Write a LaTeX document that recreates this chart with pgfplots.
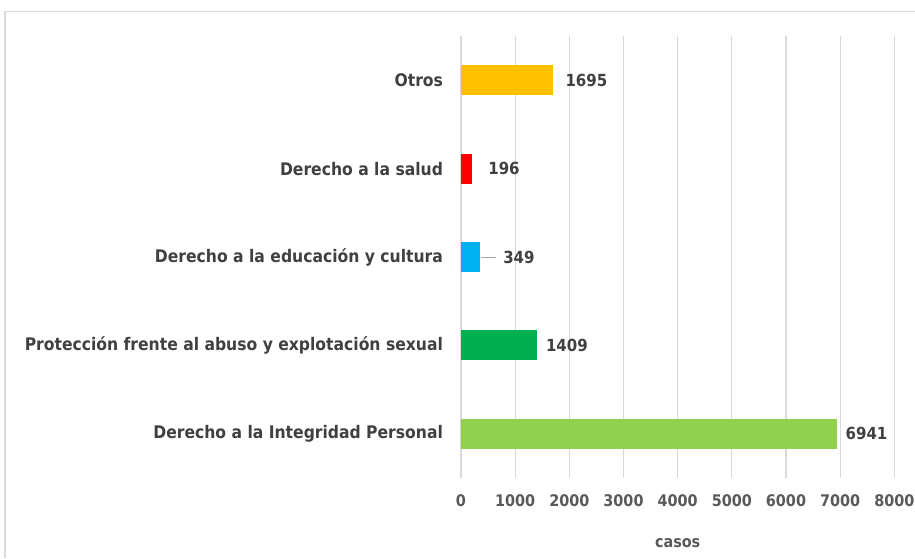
\documentclass[border=0pt]{standalone}
\usepackage{pgfplots}
\pgfplotsset{compat=1.18}
\usepackage{fontspec}
\setmainfont{DejaVu Sans Condensed}
\definecolor{txt}{HTML}{404040}
\definecolor{tick}{HTML}{595959}
\definecolor{gridc}{HTML}{D9D9D9}
\definecolor{c0}{HTML}{92D050}
\definecolor{c1}{HTML}{00B050}
\definecolor{c2}{HTML}{00B0F0}
\definecolor{c3}{HTML}{FF0000}
\definecolor{c4}{HTML}{FFC000}
\begin{document}
\begin{tikzpicture}
\path[use as bounding box] (-345.75pt,-60pt) rectangle (340.5pt,358.5pt);
\draw[gridc,line width=1pt] (-342pt,-60pt) -- (-342pt,350pt) -- (340.5pt,350pt);
\begin{axis}[
  at={(0,0)}, anchor=south west,
  scale only axis, width=325pt, height=331.5pt,
  xbar, bar width=22.5pt, bar shift=0pt,
  xmin=0, xmax=8000, ymin=-0.5, ymax=4.5,
  xtick={0,1000,...,8000},
  ytick={0,1,2,3,4},
  yticklabels={Derecho a la Integridad Personal, Protección frente al abuso y explotación sexual, Derecho a la educación y cultura, Derecho a la salud, Otros},
  axis line style={draw=none},
  major tick length=0pt,
  xmajorgrids, grid style={gridc,line width=0.8pt},
  /pgf/number format/assume math mode=true,
  /pgf/number format/1000 sep={},
  x tick label style={font=\fontsize{12}{14}\selectfont\bfseries, text=tick, yshift=-9pt},
  y tick label style={font=\fontsize{13}{15}\selectfont\bfseries, text=txt, xshift=-10pt},
  xlabel={casos},
  xlabel style={font=\fontsize{12}{14}\selectfont\bfseries, text=tick, at={(axis description cs:0.5,0)}, anchor=center, yshift=-49pt},
  nodes near coords,
  nodes near coords style={font=\fontsize{12.5}{14}\selectfont\bfseries, text=txt, anchor=west, xshift=3pt,
     /pgf/number format/1000 sep={}},
  clip=false,
]
\addplot[fill=c0, draw=none] coordinates {(6941,0)};
\addplot[fill=c1, draw=none] coordinates {(1409,1)};
\addplot[fill=c2, draw=none, nodes near coords style={xshift=11pt}] coordinates {(349,2)};
\addplot[fill=c3, draw=none, nodes near coords style={xshift=6pt}] coordinates {(196,3)};
\addplot[fill=c4, draw=none, nodes near coords style={xshift=3pt}] coordinates {(1695,4)};
\draw[black!35, line width=0.7pt] ([xshift=1pt]axis cs:349,2) -- ([xshift=12pt]axis cs:349,2);
\end{axis}
\end{tikzpicture}
\end{document}
